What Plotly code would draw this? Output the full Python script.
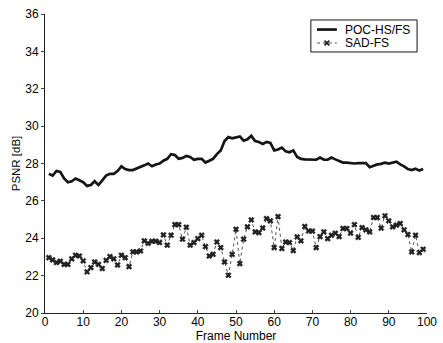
import plotly.graph_objects as go

frames = list(range(1, 100))

poc_hs_fs = [27.45, 27.35, 27.6, 27.55, 27.2, 27.0, 27.05, 27.2, 27.1,
             27.0, 26.8, 26.85, 27.05, 26.85, 27.1, 27.35, 27.45, 27.45, 27.6,
             27.85, 27.7, 27.65, 27.65, 27.72, 27.8, 27.9, 28.0, 27.85, 27.95,
             28.0, 28.15, 28.25, 28.5, 28.45, 28.25, 28.3, 28.4, 28.35, 28.2,
             28.25, 28.25, 28.05, 28.15, 28.25, 28.5, 28.7, 29.2, 29.42, 29.35,
             29.38, 29.45, 29.22, 29.3, 29.48, 29.2, 29.15, 29.05, 29.15, 29.1,
             28.7, 28.75, 28.85, 28.65, 28.6, 28.7, 28.35, 28.25, 28.22, 28.2,
             28.18, 28.2, 28.32, 28.2, 28.2, 28.32, 28.22, 28.15, 28.05, 28.05,
             28.02, 28.0, 28.02, 28.0, 28.02, 27.8, 27.88, 27.95, 27.98, 28.05,
             28.0, 28.05, 28.1, 27.95, 27.85, 27.7, 27.65, 27.72, 27.62, 27.7]

sad_fs = [22.96, 22.84, 22.7, 22.77, 22.6, 22.6, 22.9, 23.09, 23.05, 22.79,
          22.2, 22.43, 22.73, 22.6, 22.38, 22.82, 23.02, 22.9, 22.57, 23.09,
          22.96, 22.48, 23.27, 23.27, 23.32, 23.86, 23.73, 23.84, 23.84, 23.77,
          24.18, 23.63, 24.16, 24.73, 24.73, 23.95, 24.59, 23.63, 23.77, 23.98,
          24.16, 23.55, 23.05, 23.14, 23.8, 23.5, 22.73, 22.02, 23.14, 24.48,
          22.64, 23.95, 24.61, 24.98, 24.34, 24.3, 24.55, 25.05, 24.93, 23.5,
          25.16, 23.45, 23.8, 23.77, 23.34, 24.07, 23.86, 24.63, 24.39, 24.38,
          23.5, 24.09, 24.34, 23.98, 24.16, 24.27, 24.09, 24.52, 24.52, 24.27,
          24.73, 24.05, 24.57, 24.45, 24.34, 25.11, 25.11, 24.54, 25.2, 24.93,
          24.61, 24.7, 24.79, 24.45, 24.2, 23.27, 24.16, 23.23, 23.41]

series_names = ["POC-HS/FS", "SAD-FS"]
x_ticks = [0, 10, 20, 30, 40, 50, 60, 70, 80, 90, 100]
y_ticks = [20, 22, 24, 26, 28, 30, 32, 34, 36]

POC_COLOR = "#151515"
SAD_LINE = "#555555"
SAD_MARK = "#202020"

fig = go.Figure()
fig.add_trace(go.Scatter(
    x=frames, y=poc_hs_fs, mode="lines", name=series_names[0],
    line=dict(color=POC_COLOR, width=2.7)))
fig.add_trace(go.Scatter(
    x=frames, y=sad_fs, mode="lines+markers", name=series_names[1],
    line=dict(color=SAD_LINE, width=1, dash="dot"),
    marker=dict(symbol="x", size=5, color=SAD_MARK,
                line=dict(width=0.5, color=SAD_MARK))))

# Matlab-style compact legend box (paper coordinates)
lx0, lx1, ly0, ly1 = 0.696, 0.974, 0.873, 0.980
row_y = [0.948, 0.903]
samp_x0, samp_x1, text_x = 0.712, 0.764, 0.780
mx, mdx, mdy = 0.738, 0.0062, 0.0080
shapes = [
    dict(type="rect", xref="paper", yref="paper", x0=lx0, x1=lx1, y0=ly0, y1=ly1,
         line=dict(color="#111111", width=1), fillcolor="white", layer="above"),
    dict(type="line", xref="paper", yref="paper", x0=samp_x0, x1=samp_x1,
         y0=row_y[0], y1=row_y[0], line=dict(color=POC_COLOR, width=2.7), layer="above"),
    dict(type="line", xref="paper", yref="paper", x0=samp_x0, x1=samp_x1,
         y0=row_y[1], y1=row_y[1], line=dict(color=SAD_LINE, width=1, dash="dot"), layer="above"),
    dict(type="line", xref="paper", yref="paper", x0=mx - mdx, x1=mx + mdx,
         y0=row_y[1] - mdy, y1=row_y[1] + mdy, line=dict(color=SAD_MARK, width=1.6), layer="above"),
    dict(type="line", xref="paper", yref="paper", x0=mx - mdx, x1=mx + mdx,
         y0=row_y[1] + mdy, y1=row_y[1] - mdy, line=dict(color=SAD_MARK, width=1.6), layer="above"),
]
annotations = [
    dict(xref="paper", yref="paper", x=text_x, y=row_y[i], text=series_names[i],
         showarrow=False, xanchor="left", yanchor="middle",
         font=dict(size=12, color="#000000"))
    for i in range(2)
]

fig.update_layout(
    width=443, height=343,
    margin=dict(l=45, r=16, t=14, b=30),
    paper_bgcolor="white", plot_bgcolor="white",
    font=dict(family="Liberation Sans, Arial, sans-serif", color="#000000", size=12),
    showlegend=False,
    shapes=shapes,
    annotations=annotations,
    xaxis=dict(range=[0, 100], tickvals=x_ticks, ticks="inside", ticklen=3,
               showline=True, linecolor="#222222", linewidth=1, showgrid=False,
               zeroline=False, tickfont=dict(size=12), automargin=False,
               ticklabelstandoff=-2,
               title=dict(text="Frame Number", font=dict(size=12), standoff=0)),
    yaxis=dict(range=[20, 36], tickvals=y_ticks, ticks="outside", ticklen=3,
               showline=True, linecolor="#222222", linewidth=1, showgrid=False,
               zeroline=False, tickfont=dict(size=12), automargin=False,
               title=dict(text="PSNR [dB]", font=dict(size=11.5), standoff=2)),
)

fig.write_html("out.html", config={"displayModeBar": False},
               post_script="document.body.style.margin='0';document.body.style.overflow='hidden';")
